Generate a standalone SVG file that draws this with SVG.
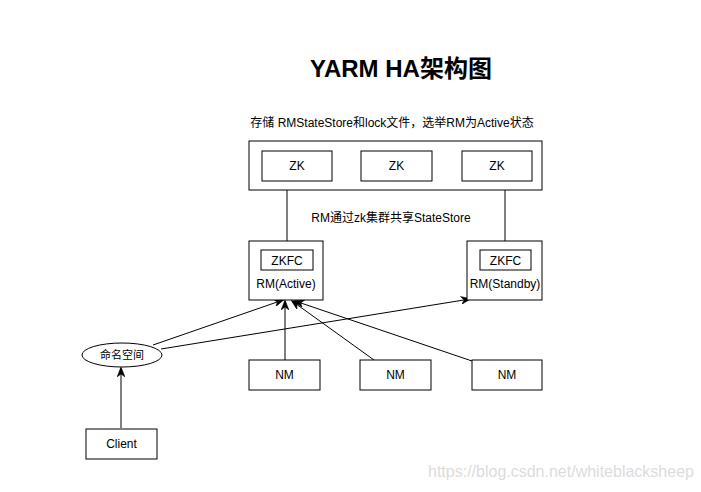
<svg xmlns="http://www.w3.org/2000/svg" width="701" height="492" viewBox="0 0 701 492">
<style>
.box{fill:#fff;stroke:#000;stroke-width:1}
.t{font-family:"Liberation Sans",Arial,"Noto Sans CJK SC",sans-serif;font-size:12px;fill:#000;text-anchor:middle}
.ln{stroke:#000;stroke-width:1;fill:none}
.ar{stroke:#000;stroke-width:1;fill:none;marker-end:url(#arr)}
</style>
<defs>
<marker id="arr" markerWidth="10" markerHeight="8" refX="9" refY="4" orient="auto" markerUnits="userSpaceOnUse">
<path d="M0,0 L10,4 L0,8 L3,4 z" fill="#000" stroke="#000" stroke-width="0.5"/>
</marker>
</defs>
<rect width="701" height="492" fill="#fff"/>
<text x="401" y="77" class="t" style="font-size:24px;font-weight:bold">YARM HA架构图</text>
<text x="392" y="127" class="t">存储 RMStateStore和lock文件，选举RM为Active状态</text>
<text x="391" y="222" class="t">RM通过zk集群共享StateStore</text>
<g id="connectors">
<line class="ln" x1="287" y1="190" x2="287" y2="250"/>
<line class="ln" x1="505" y1="190" x2="505" y2="250"/>
<line class="ar" x1="153" y1="345" x2="283" y2="300"/>
<line class="ar" x1="161" y1="349" x2="470" y2="299"/>
<line class="ar" x1="285" y1="360" x2="285" y2="301"/>
<line class="ar" x1="374" y1="360" x2="292" y2="301"/>
<line class="ar" x1="472" y1="361" x2="295" y2="301"/>
<line class="ar" x1="121" y1="428" x2="121" y2="368"/>
</g>
<g id="zk-cluster"><rect class="box" x="249" y="141" width="293" height="49"/></g>
<g id="zk1"><rect class="box" x="262" y="151" width="70" height="30"/><text class="t" x="297" y="170">ZK</text></g>
<g id="zk2"><rect class="box" x="361" y="151" width="71" height="30"/><text class="t" x="396.5" y="170">ZK</text></g>
<g id="zk3"><rect class="box" x="462" y="151" width="70" height="30"/><text class="t" x="497" y="170">ZK</text></g>
<g id="rm-active"><rect class="box" x="249" y="241" width="74" height="59"/><text class="t" x="286" y="288">RM(Active)</text></g>
<g id="zkfc-active"><rect class="box" x="261" y="250" width="52" height="20"/><text class="t" x="287" y="265">ZKFC</text></g>
<g id="rm-standby"><rect class="box" x="467" y="241" width="75" height="59"/><text class="t" x="505" y="288">RM(Standby)</text></g>
<g id="zkfc-standby"><rect class="box" x="480" y="250" width="51" height="20"/><text class="t" x="505.5" y="265">ZKFC</text></g>
<g id="namespace"><ellipse class="box" cx="122" cy="355" rx="40" ry="12"/><text class="t" x="122" y="359" style="font-size:11px">命名空间</text></g>
<g id="nm1"><rect class="box" x="249" y="360" width="71" height="30"/><text class="t" x="284.5" y="379">NM</text></g>
<g id="nm2"><rect class="box" x="360" y="360" width="71" height="30"/><text class="t" x="395.5" y="379">NM</text></g>
<g id="nm3"><rect class="box" x="472" y="360" width="70" height="30"/><text class="t" x="507" y="379">NM</text></g>
<g id="client"><rect class="box" x="86" y="429" width="71" height="30"/><text class="t" x="121.5" y="448">Client</text></g>
<text x="428" y="477" style="font-family:'Liberation Sans',Arial,sans-serif;font-size:16px;fill:#dcdcdc">https://blog.csdn.net/whiteblacksheep</text>
</svg>
